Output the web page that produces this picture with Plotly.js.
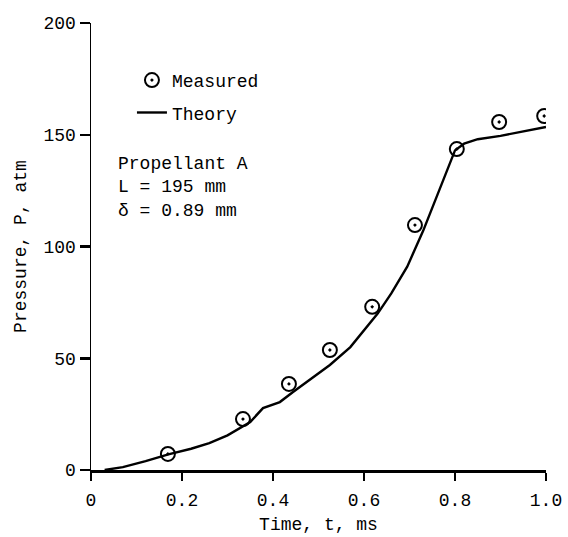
<!DOCTYPE html>
<html>
<head>
<meta charset="utf-8">
<script src="https://cdn.plot.ly/plotly-3.0.1.min.js"></script>
<style>html,body{margin:0;padding:0;background:#fff;}#chart{width:568px;height:537px;}</style>
</head>
<body>
<div id="chart"></div>
<script>
// Measured data points
const measuredT = [0.169, 0.334, 0.435, 0.525, 0.618, 0.712, 0.804, 0.897, 0.996];
const measuredP = [7.2, 22.8, 38.5, 53.7, 73.0, 109.6, 143.6, 155.7, 158.4];

// Theory curve
const theoryT = [0.03, 0.07, 0.12, 0.17, 0.22, 0.26, 0.30, 0.335, 0.35, 0.378, 0.415, 0.444, 0.48, 0.525, 0.57, 0.63, 0.66, 0.695, 0.73, 0.775, 0.80, 0.82, 0.85, 0.90, 0.95, 1.0];
const theoryP = [0.0, 1.3, 4.0, 7.0, 9.5, 12.0, 15.5, 19.5, 21.5, 27.7, 30.4, 34.9, 40.3, 47.0, 55.0, 70.0, 79.0, 91.0, 107.0, 130.0, 143.0, 146.0, 148.0, 149.5, 151.5, 153.5];

const xTicks = [0, 0.2, 0.4, 0.6, 0.8, 1.0];
const xTickLabels = ['0', '0.2', '0.4', '0.6', '0.8', '1.0'];
const yTicks = [0, 50, 100, 150, 200];
const yTickLabels = ['0', '50', '100', '150', '200'];

const FONT = 'Liberation Mono, Courier New, monospace';

const traces = [
  {
    x: measuredT, y: measuredP, name: 'Measured', type: 'scatter', mode: 'markers', legendgroup: 'm',
    marker: {symbol: 'circle-open-dot', size: 14, color: '#000', line: {width: 2, color: '#000'}}
  },
  {
    x: theoryT, y: theoryP, name: 'Theory', type: 'scatter', mode: 'lines', legendgroup: 't',
    line: {color: '#000', width: 2.4}
  }
];

const layout = {
  width: 568, height: 537,
  margin: {l: 91, r: 22, t: 23, b: 67},
  paper_bgcolor: '#fff', plot_bgcolor: '#fff',
  font: {family: FONT, size: 18, color: '#000'},
  showlegend: true,
  legend: {x: 0.09, y: 0.913, xanchor: 'left', yanchor: 'top', bgcolor: 'rgba(0,0,0,0)',
           font: {size: 18}, traceorder: 'grouped', tracegroupgap: 6},
  xaxis: {
    range: [0, 1.0], tickvals: xTicks, ticktext: xTickLabels,
    showgrid: false, zeroline: false, showline: true, linecolor: '#000', linewidth: 2.5,
    ticks: 'outside', ticklen: 8, tickwidth: 1.5, tickcolor: '#000', ticklabelstandoff: 4,
    title: {text: 'Time, t, ms', font: {size: 18}, standoff: 8}
  },
  yaxis: {
    range: [0, 200], tickvals: yTicks, ticktext: yTickLabels,
    showgrid: false, zeroline: false, showline: true, linecolor: '#000', linewidth: 1.5,
    ticks: 'outside', ticklen: 10, tickwidth: 2.5, tickcolor: '#000',
    title: {text: 'Pressure, P, atm', font: {size: 18}, standoff: 12}
  },
  annotations: [
    {xref: 'x', yref: 'y', x: 0.055, y: 126.5, xanchor: 'left', yanchor: 'middle', align: 'left', showarrow: false,
     text: 'Propellant A<br>L = 195 mm<br>δ = 0.89 mm', font: {size: 18}}
  ]
};

Plotly.newPlot('chart', traces, layout, {displayModeBar: false, staticPlot: true});
</script>
</body>
</html>
